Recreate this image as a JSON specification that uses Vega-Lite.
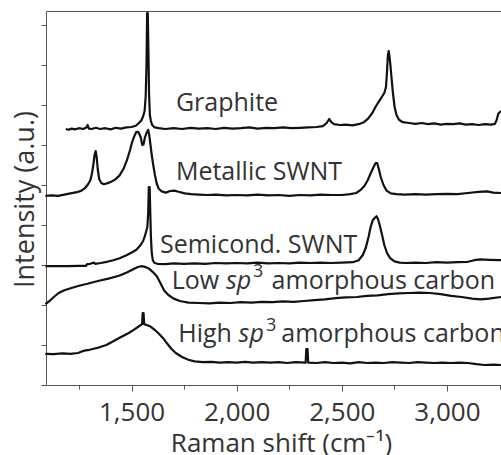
{
  "$schema": "https://vega.github.io/schema/vega-lite/v6.json",
  "width": 455,
  "height": 374,
  "autosize": {"type": "none"},
  "padding": {"left": 46, "top": 11, "right": 0, "bottom": 70},
  "background": "white",
  "config": {
    "view": {"stroke": null},
    "font": "Open Sans",
    "axis": {"domainColor": "#555555", "tickColor": "#555555", "labelColor": "#333333", "titleColor": "#333333", "grid": false, "labelFont": "Open Sans", "titleFont": "Open Sans", "titleFontWeight": "normal"}
  },
  "datasets": {
    "spectra": [
      {"s":"g","x":1187,"y":6.40},{"s":"g","x":1200,"y":6.38},{"s":"g","x":1215,"y":6.41},{"s":"g","x":1230,"y":6.39},{"s":"g","x":1250,"y":6.42},{"s":"g","x":1270,"y":6.40},{"s":"g","x":1285,"y":6.44},{"s":"g","x":1291,"y":6.50},{"s":"g","x":1297,"y":6.41},{"s":"g","x":1310,"y":6.40},{"s":"g","x":1330,"y":6.43},{"s":"g","x":1350,"y":6.40},{"s":"g","x":1375,"y":6.42},{"s":"g","x":1400,"y":6.39},{"s":"g","x":1425,"y":6.43},{"s":"g","x":1450,"y":6.41},{"s":"g","x":1475,"y":6.44},{"s":"g","x":1500,"y":6.45},{"s":"g","x":1520,"y":6.48},{"s":"g","x":1535,"y":6.55},{"s":"g","x":1547,"y":6.62},{"s":"g","x":1555,"y":6.72},{"s":"g","x":1562,"y":6.85},{"s":"g","x":1567,"y":7.2},{"s":"g","x":1571,"y":8.0},{"s":"g","x":1574,"y":9.3},{"s":"g","x":1577,"y":9.3},{"s":"g","x":1580,"y":8.4},{"s":"g","x":1583,"y":7.3},{"s":"g","x":1587,"y":6.75},{"s":"g","x":1592,"y":6.6},{"s":"g","x":1598,"y":6.5},{"s":"g","x":1610,"y":6.44},{"s":"g","x":1630,"y":6.42},{"s":"g","x":1660,"y":6.40},{"s":"g","x":1700,"y":6.42},{"s":"g","x":1740,"y":6.40},{"s":"g","x":1780,"y":6.43},{"s":"g","x":1820,"y":6.41},{"s":"g","x":1860,"y":6.42},{"s":"g","x":1900,"y":6.40},{"s":"g","x":1940,"y":6.43},{"s":"g","x":1980,"y":6.41},{"s":"g","x":2020,"y":6.42},{"s":"g","x":2060,"y":6.44},{"s":"g","x":2100,"y":6.41},{"s":"g","x":2140,"y":6.43},{"s":"g","x":2180,"y":6.42},{"s":"g","x":2220,"y":6.44},{"s":"g","x":2260,"y":6.42},{"s":"g","x":2300,"y":6.43},{"s":"g","x":2340,"y":6.44},{"s":"g","x":2380,"y":6.45},{"s":"g","x":2410,"y":6.47},{"s":"g","x":2428,"y":6.55},{"s":"g","x":2440,"y":6.65},{"s":"g","x":2450,"y":6.57},{"s":"g","x":2463,"y":6.52},{"s":"g","x":2490,"y":6.50},{"s":"g","x":2520,"y":6.51},{"s":"g","x":2550,"y":6.49},{"s":"g","x":2580,"y":6.52},{"s":"g","x":2605,"y":6.57},{"s":"g","x":2625,"y":6.66},{"s":"g","x":2645,"y":6.8},{"s":"g","x":2660,"y":6.95},{"s":"g","x":2675,"y":7.08},{"s":"g","x":2690,"y":7.2},{"s":"g","x":2702,"y":7.3},{"s":"g","x":2710,"y":7.45},{"s":"g","x":2715,"y":7.85},{"s":"g","x":2719,"y":8.25},{"s":"g","x":2723,"y":8.35},{"s":"g","x":2727,"y":8.2},{"s":"g","x":2731,"y":8.0},{"s":"g","x":2736,"y":7.7},{"s":"g","x":2743,"y":7.3},{"s":"g","x":2751,"y":6.95},{"s":"g","x":2760,"y":6.75},{"s":"g","x":2772,"y":6.63},{"s":"g","x":2790,"y":6.57},{"s":"g","x":2820,"y":6.55},{"s":"g","x":2850,"y":6.53},{"s":"g","x":2880,"y":6.55},{"s":"g","x":2910,"y":6.52},{"s":"g","x":2940,"y":6.54},{"s":"g","x":2970,"y":6.51},{"s":"g","x":3000,"y":6.53},{"s":"g","x":3030,"y":6.52},{"s":"g","x":3060,"y":6.54},{"s":"g","x":3090,"y":6.51},{"s":"g","x":3120,"y":6.52},{"s":"g","x":3150,"y":6.50},{"s":"g","x":3180,"y":6.52},{"s":"g","x":3210,"y":6.51},{"s":"g","x":3228,"y":6.53},{"s":"g","x":3236,"y":6.62},{"s":"g","x":3244,"y":6.78},{"s":"g","x":3257,"y":6.85},

      {"s":"m","x":1090,"y":4.73},{"s":"m","x":1120,"y":4.74},{"s":"m","x":1150,"y":4.73},{"s":"m","x":1180,"y":4.76},{"s":"m","x":1210,"y":4.79},{"s":"m","x":1240,"y":4.82},{"s":"m","x":1262,"y":4.86},{"s":"m","x":1278,"y":4.92},{"s":"m","x":1293,"y":5.02},{"s":"m","x":1304,"y":5.12},{"s":"m","x":1312,"y":5.3},{"s":"m","x":1318,"y":5.5},{"s":"m","x":1324,"y":5.75},{"s":"m","x":1329,"y":5.85},{"s":"m","x":1334,"y":5.7},{"s":"m","x":1339,"y":5.4},{"s":"m","x":1346,"y":5.15},{"s":"m","x":1356,"y":5.05},{"s":"m","x":1368,"y":5.02},{"s":"m","x":1383,"y":5.04},{"s":"m","x":1403,"y":5.08},{"s":"m","x":1423,"y":5.14},{"s":"m","x":1443,"y":5.24},{"s":"m","x":1463,"y":5.42},{"s":"m","x":1478,"y":5.62},{"s":"m","x":1493,"y":5.88},{"s":"m","x":1503,"y":6.08},{"s":"m","x":1513,"y":6.22},{"s":"m","x":1523,"y":6.33},{"s":"m","x":1533,"y":6.32},{"s":"m","x":1543,"y":6.2},{"s":"m","x":1551,"y":6.0},{"s":"m","x":1557,"y":6.02},{"s":"m","x":1563,"y":6.18},{"s":"m","x":1571,"y":6.3},{"s":"m","x":1579,"y":6.38},{"s":"m","x":1584,"y":6.25},{"s":"m","x":1590,"y":6.0},{"s":"m","x":1596,"y":5.75},{"s":"m","x":1603,"y":5.5},{"s":"m","x":1611,"y":5.25},{"s":"m","x":1619,"y":5.05},{"s":"m","x":1628,"y":4.92},{"s":"m","x":1643,"y":4.84},{"s":"m","x":1663,"y":4.81},{"s":"m","x":1683,"y":4.85},{"s":"m","x":1703,"y":4.86},{"s":"m","x":1723,"y":4.83},{"s":"m","x":1753,"y":4.79},{"s":"m","x":1783,"y":4.77},{"s":"m","x":1820,"y":4.76},{"s":"m","x":1860,"y":4.75},{"s":"m","x":1900,"y":4.76},{"s":"m","x":1950,"y":4.74},{"s":"m","x":2000,"y":4.75},{"s":"m","x":2050,"y":4.74},{"s":"m","x":2100,"y":4.76},{"s":"m","x":2150,"y":4.74},{"s":"m","x":2200,"y":4.75},{"s":"m","x":2250,"y":4.73},{"s":"m","x":2300,"y":4.75},{"s":"m","x":2350,"y":4.74},{"s":"m","x":2400,"y":4.76},{"s":"m","x":2450,"y":4.75},{"s":"m","x":2500,"y":4.75},{"s":"m","x":2540,"y":4.77},{"s":"m","x":2568,"y":4.80},{"s":"m","x":2588,"y":4.87},{"s":"m","x":2608,"y":4.98},{"s":"m","x":2623,"y":5.12},{"s":"m","x":2638,"y":5.3},{"s":"m","x":2651,"y":5.45},{"s":"m","x":2661,"y":5.55},{"s":"m","x":2668,"y":5.55},{"s":"m","x":2675,"y":5.42},{"s":"m","x":2685,"y":5.2},{"s":"m","x":2698,"y":5.0},{"s":"m","x":2713,"y":4.86},{"s":"m","x":2733,"y":4.79},{"s":"m","x":2760,"y":4.77},{"s":"m","x":2800,"y":4.76},{"s":"m","x":2850,"y":4.77},{"s":"m","x":2900,"y":4.76},{"s":"m","x":2950,"y":4.77},{"s":"m","x":3000,"y":4.78},{"s":"m","x":3050,"y":4.77},{"s":"m","x":3100,"y":4.80},{"s":"m","x":3150,"y":4.83},{"s":"m","x":3190,"y":4.84},{"s":"m","x":3220,"y":4.81},{"s":"m","x":3257,"y":4.80},

      {"s":"s","x":1090,"y":2.97},{"s":"s","x":1150,"y":2.97},{"s":"s","x":1200,"y":2.97},{"s":"s","x":1250,"y":2.98},{"s":"s","x":1283,"y":2.98},{"s":"s","x":1289,"y":3.02},{"s":"s","x":1303,"y":3.03},{"s":"s","x":1321,"y":3.06},{"s":"s","x":1328,"y":3.03},{"s":"s","x":1353,"y":3.05},{"s":"s","x":1383,"y":3.08},{"s":"s","x":1413,"y":3.12},{"s":"s","x":1443,"y":3.17},{"s":"s","x":1473,"y":3.24},{"s":"s","x":1503,"y":3.32},{"s":"s","x":1523,"y":3.38},{"s":"s","x":1543,"y":3.5},{"s":"s","x":1555,"y":3.6},{"s":"s","x":1563,"y":3.72},{"s":"s","x":1570,"y":3.85},{"s":"s","x":1575,"y":3.95},{"s":"s","x":1579,"y":4.3},{"s":"s","x":1582,"y":4.95},{"s":"s","x":1586,"y":4.95},{"s":"s","x":1589,"y":4.3},{"s":"s","x":1592,"y":3.7},{"s":"s","x":1596,"y":3.3},{"s":"s","x":1601,"y":3.12},{"s":"s","x":1609,"y":3.05},{"s":"s","x":1623,"y":3.03},{"s":"s","x":1660,"y":3.02},{"s":"s","x":1700,"y":3.04},{"s":"s","x":1750,"y":3.03},{"s":"s","x":1800,"y":3.04},{"s":"s","x":1850,"y":3.03},{"s":"s","x":1900,"y":3.05},{"s":"s","x":1950,"y":3.04},{"s":"s","x":2000,"y":3.05},{"s":"s","x":2050,"y":3.04},{"s":"s","x":2100,"y":3.06},{"s":"s","x":2150,"y":3.04},{"s":"s","x":2200,"y":3.05},{"s":"s","x":2250,"y":3.04},{"s":"s","x":2300,"y":3.06},{"s":"s","x":2350,"y":3.05},{"s":"s","x":2400,"y":3.06},{"s":"s","x":2450,"y":3.05},{"s":"s","x":2500,"y":3.06},{"s":"s","x":2553,"y":3.07},{"s":"s","x":2580,"y":3.12},{"s":"s","x":2600,"y":3.25},{"s":"s","x":2615,"y":3.45},{"s":"s","x":2627,"y":3.7},{"s":"s","x":2637,"y":3.95},{"s":"s","x":2647,"y":4.12},{"s":"s","x":2657,"y":4.18},{"s":"s","x":2665,"y":4.22},{"s":"s","x":2672,"y":4.15},{"s":"s","x":2680,"y":4.0},{"s":"s","x":2690,"y":3.78},{"s":"s","x":2702,"y":3.5},{"s":"s","x":2715,"y":3.3},{"s":"s","x":2730,"y":3.17},{"s":"s","x":2750,"y":3.09},{"s":"s","x":2775,"y":3.06},{"s":"s","x":2800,"y":3.05},{"s":"s","x":2850,"y":3.06},{"s":"s","x":2900,"y":3.05},{"s":"s","x":2950,"y":3.07},{"s":"s","x":3000,"y":3.06},{"s":"s","x":3050,"y":3.07},{"s":"s","x":3100,"y":3.08},{"s":"s","x":3130,"y":3.12},{"s":"s","x":3160,"y":3.14},{"s":"s","x":3200,"y":3.13},{"s":"s","x":3257,"y":3.12},

      {"s":"l","x":1090,"y":2.02},{"s":"l","x":1110,"y":2.1},{"s":"l","x":1130,"y":2.2},{"s":"l","x":1153,"y":2.3},{"s":"l","x":1180,"y":2.37},{"s":"l","x":1210,"y":2.42},{"s":"l","x":1250,"y":2.48},{"s":"l","x":1290,"y":2.53},{"s":"l","x":1340,"y":2.6},{"s":"l","x":1390,"y":2.66},{"s":"l","x":1440,"y":2.73},{"s":"l","x":1480,"y":2.82},{"s":"l","x":1510,"y":2.9},{"s":"l","x":1530,"y":2.95},{"s":"l","x":1545,"y":2.97},{"s":"l","x":1560,"y":2.96},{"s":"l","x":1580,"y":2.92},{"s":"l","x":1600,"y":2.83},{"s":"l","x":1620,"y":2.72},{"s":"l","x":1640,"y":2.52},{"s":"l","x":1655,"y":2.36},{"s":"l","x":1675,"y":2.25},{"s":"l","x":1700,"y":2.16},{"s":"l","x":1730,"y":2.1},{"s":"l","x":1770,"y":2.06},{"s":"l","x":1820,"y":2.05},{"s":"l","x":1870,"y":2.04},{"s":"l","x":1920,"y":2.06},{"s":"l","x":1970,"y":2.05},{"s":"l","x":2020,"y":2.07},{"s":"l","x":2070,"y":2.06},{"s":"l","x":2120,"y":2.08},{"s":"l","x":2170,"y":2.07},{"s":"l","x":2220,"y":2.09},{"s":"l","x":2270,"y":2.08},{"s":"l","x":2320,"y":2.1},{"s":"l","x":2370,"y":2.12},{"s":"l","x":2420,"y":2.14},{"s":"l","x":2470,"y":2.17},{"s":"l","x":2520,"y":2.19},{"s":"l","x":2570,"y":2.2},{"s":"l","x":2620,"y":2.23},{"s":"l","x":2670,"y":2.24},{"s":"l","x":2720,"y":2.27},{"s":"l","x":2770,"y":2.29},{"s":"l","x":2820,"y":2.3},{"s":"l","x":2870,"y":2.31},{"s":"l","x":2920,"y":2.3},{"s":"l","x":2970,"y":2.27},{"s":"l","x":3020,"y":2.23},{"s":"l","x":3070,"y":2.2},{"s":"l","x":3120,"y":2.16},{"s":"l","x":3160,"y":2.14},{"s":"l","x":3200,"y":2.16},{"s":"l","x":3257,"y":2.2},

      {"s":"h","x":1090,"y":0.78},{"s":"h","x":1130,"y":0.77},{"s":"h","x":1170,"y":0.79},{"s":"h","x":1210,"y":0.78},{"s":"h","x":1245,"y":0.8},{"s":"h","x":1260,"y":0.83},{"s":"h","x":1275,"y":0.86},{"s":"h","x":1300,"y":0.88},{"s":"h","x":1340,"y":0.93},{"s":"h","x":1380,"y":1.0},{"s":"h","x":1415,"y":1.1},{"s":"h","x":1450,"y":1.2},{"s":"h","x":1487,"y":1.3},{"s":"h","x":1510,"y":1.38},{"s":"h","x":1530,"y":1.45},{"s":"h","x":1550,"y":1.52},{"s":"h","x":1553,"y":1.8},{"s":"h","x":1557,"y":1.8},{"s":"h","x":1560,"y":1.52},{"s":"h","x":1572,"y":1.5},{"s":"h","x":1590,"y":1.46},{"s":"h","x":1610,"y":1.38},{"s":"h","x":1630,"y":1.28},{"s":"h","x":1650,"y":1.17},{"s":"h","x":1670,"y":1.03},{"s":"h","x":1690,"y":0.9},{"s":"h","x":1710,"y":0.8},{"s":"h","x":1740,"y":0.7},{"s":"h","x":1770,"y":0.63},{"s":"h","x":1800,"y":0.59},{"s":"h","x":1840,"y":0.57},{"s":"h","x":1880,"y":0.58},{"s":"h","x":1920,"y":0.56},{"s":"h","x":1960,"y":0.57},{"s":"h","x":2000,"y":0.56},{"s":"h","x":2040,"y":0.58},{"s":"h","x":2080,"y":0.56},{"s":"h","x":2120,"y":0.57},{"s":"h","x":2160,"y":0.56},{"s":"h","x":2200,"y":0.57},{"s":"h","x":2240,"y":0.55},{"s":"h","x":2280,"y":0.57},{"s":"h","x":2328,"y":0.56},{"s":"h","x":2331,"y":0.9},{"s":"h","x":2337,"y":0.9},{"s":"h","x":2340,"y":0.56},{"s":"h","x":2380,"y":0.55},{"s":"h","x":2420,"y":0.57},{"s":"h","x":2460,"y":0.55},{"s":"h","x":2500,"y":0.56},{"s":"h","x":2540,"y":0.54},{"s":"h","x":2580,"y":0.57},{"s":"h","x":2620,"y":0.55},{"s":"h","x":2660,"y":0.56},{"s":"h","x":2700,"y":0.55},{"s":"h","x":2740,"y":0.57},{"s":"h","x":2780,"y":0.56},{"s":"h","x":2820,"y":0.55},{"s":"h","x":2860,"y":0.57},{"s":"h","x":2900,"y":0.56},{"s":"h","x":2940,"y":0.55},{"s":"h","x":2980,"y":0.56},{"s":"h","x":3020,"y":0.55},{"s":"h","x":3060,"y":0.56},{"s":"h","x":3100,"y":0.55},{"s":"h","x":3140,"y":0.52},{"s":"h","x":3180,"y":0.5},{"s":"h","x":3220,"y":0.51},{"s":"h","x":3257,"y":0.5}
    ],
    "labels": [
      {"x":1711,"y":6.85,"t":"Graphite"},
      {"x":1711,"y":5.125,"t":"Metallic SWNT"},
      {"x":1635,"y":3.29,"t":"Semicond. SWNT"},
      {"x":1691,"y":2.41,"t":"Low"},
      {"x":2166,"y":2.41,"t":"amorphous carbon"},
      {"x":1722,"y":1.07,"t":"High"},
      {"x":2212,"y":1.07,"t":"amorphous carbon"}
    ],
    "italic": [
      {"x":1949,"y":2.41,"t":"sp"},
      {"x":2009,"y":1.07,"t":"sp"}
    ],
    "sup": [
      {"x":2077,"y":2.69,"t":"3"},
      {"x":2139,"y":1.34,"t":"3"}
    ]
  },
  "layer": [
    {
      "data": {"name": "spectra"},
      "mark": {"type": "line", "color": "#111111", "strokeWidth": 2.2, "strokeJoin": "round"},
      "encoding": {
        "x": {"field": "x", "type": "quantitative",
          "scale": {"domain": [1093, 3257], "nice": false, "zero": false},
          "axis": {"title": "Raman shift (cm⁻¹)", "values": [1250,1500,1750,2000,2250,2500,2750,3000,3250],
            "labelExpr": "datum.value % 500 === 0 ? format(datum.value, ',') : ''",
            "tickSize": {"condition": {"test": "datum.value % 500 === 0", "value": 6}, "value": 4},
            "labelFontSize": 26, "labelPadding": 8, "labelOverlap": false, "labelFlush": false,
            "titleFontSize": 26, "titleX": 235, "titleY": 45, "titleBaseline": "top", "titleAnchor": "middle", "titleAlign": "center"}},
        "y": {"field": "y", "type": "quantitative",
          "scale": {"domain": [0, 9.35], "nice": false, "zero": false},
          "axis": {"title": "Intensity (a.u.)", "values": [0,1,2,3,4,5,6,7,8,9], "labels": false, "tickSize": 5,
            "titleFontSize": 27, "titleX": -13, "titleY": 188, "titleBaseline": "alphabetic", "titleAngle": 270, "titleAlign": "center"}},
        "detail": {"field": "s"}
      }
    },
    {
      "data": {"name": "labels"},
      "mark": {"type": "text", "align": "left", "baseline": "alphabetic", "fontSize": 25, "font": "Open Sans", "color": "#333333"},
      "encoding": {
        "x": {"field": "x", "type": "quantitative", "axis": {"orient": "top", "labels": false, "ticks": false, "title": null, "domain": true}},
        "y": {"field": "y", "type": "quantitative"},
        "text": {"field": "t"}
      }
    },
    {
      "data": {"name": "italic"},
      "mark": {"type": "text", "align": "left", "baseline": "alphabetic", "fontSize": 25, "font": "Open Sans", "fontStyle": "italic", "color": "#333333"},
      "encoding": {
        "x": {"field": "x", "type": "quantitative", "axis": null},
        "y": {"field": "y", "type": "quantitative"},
        "text": {"field": "t"}
      }
    },
    {
      "data": {"name": "sup"},
      "mark": {"type": "text", "align": "left", "baseline": "alphabetic", "fontSize": 18, "font": "Open Sans", "color": "#333333"},
      "encoding": {
        "x": {"field": "x", "type": "quantitative", "axis": null},
        "y": {"field": "y", "type": "quantitative"},
        "text": {"field": "t"}
      }
    }
  ],
  "resolve": {"axis": {"x": "independent"}}
}
